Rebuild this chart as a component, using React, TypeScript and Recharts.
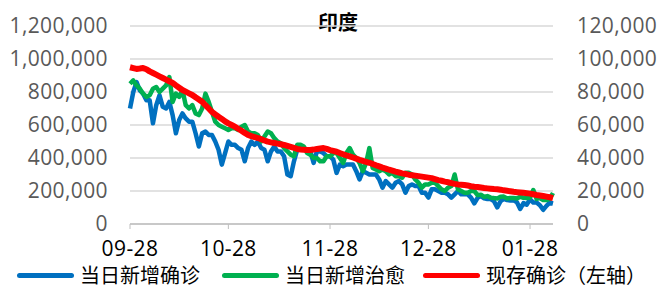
import React from 'react'
import { LineChart, Line, XAxis, YAxis, CartesianGrid } from 'recharts'

// daily data, 2020-09-28 .. 2021-02-04
const START = new Date(2020, 8, 28)
const DAYS = 130
const dates: string[] = Array.from({ length: DAYS }, (_, i) => {
  const d = new Date(START.getFullYear(), START.getMonth(), START.getDate() + i)
  return String(d.getMonth() + 1).padStart(2, '0') + '-' + String(d.getDate()).padStart(2, '0')
})

const xTicks = ['09-28', '10-28', '11-28', '12-28', '01-28']
const leftTicks = [0, 200000, 400000, 600000, 800000, 1000000, 1200000]
const rightTicks = [0, 20000, 40000, 60000, 80000, 100000, 120000]

// thousands
const newConfirmed = [
  70, 80, 86, 81, 79, 75, 75, 61, 72, 78, 71, 70, 74, 66, 55, 63, 67, 64, 62, 62,
  55, 47, 55, 56, 54, 54, 50, 45, 36, 43, 50, 48, 48, 46, 45, 38, 46, 50, 48, 50,
  46, 45, 38, 44, 47, 44, 44, 41, 30, 29, 38, 45, 46, 46, 45, 44, 37, 44, 44, 43,
  41, 41, 39, 31, 36, 35, 36, 36, 36, 32, 27, 32, 31, 30, 30, 30, 27, 22, 26, 24,
  22, 25, 26, 24, 19, 23, 24, 23, 23, 19, 19, 16, 21, 21, 20, 19, 19, 18, 16, 18,
  20, 18, 18, 18, 16, 12.5, 15.9, 16.9, 15.6, 15.2, 15.1, 13.8, 10.1, 13.8, 15.2, 14.5, 14.3, 14.3, 13.2, 9.1,
  12.7, 11.7, 15, 13, 13, 11.4, 8.6, 11, 12.9, 12.4,
]

const newRecovered = [
  85, 87, 84, 82, 79, 77, 78, 82, 83, 80, 82, 84, 89, 74, 79, 77, 81, 72, 70, 72,
  67, 66, 70, 79, 74, 68, 62, 60, 59, 58, 57, 58, 58, 57, 59, 60, 56, 55, 55, 54,
  50, 53, 56, 55, 52, 50, 49, 46, 44, 42, 41, 48, 48, 47, 43, 42, 40, 40, 38, 38,
  41, 41, 43, 43, 40, 37, 43, 46, 42, 40, 37, 32, 37, 46, 34, 33, 32, 33, 32, 30,
  31, 29, 29, 28, 31, 31, 30, 27, 25, 22, 24, 24, 25, 25, 23, 21, 20, 22, 23, 30,
  21, 20, 19, 19, 20, 20, 17.5, 17.8, 16.5, 16.9, 16, 15.7, 15.5, 16.5, 16.6, 15.5, 15.8, 15.7, 15.5, 16.5,
  15.9, 15.7, 16, 20.6, 15.2, 15.7, 14.5, 14.5, 15.2, 18.8,
]

const activeCases = [
  950, 945, 940, 942, 945, 938, 925, 915, 905, 895, 885, 875, 865, 855, 840, 826, 812, 802, 792, 782,
  768, 755, 741, 720, 700, 680, 665, 650, 637, 622, 610, 600, 590, 577, 565, 552, 540, 533, 527, 521,
  514, 506, 499, 495, 491, 487, 483, 479, 473, 467, 461, 455, 452, 450, 448, 448, 451, 455, 458, 460,
  455, 448, 443, 438, 430, 423, 416, 410, 403, 396, 389, 383, 377, 371, 364, 356, 349, 342, 336, 329,
  323, 317, 312, 307, 303, 299, 296, 293, 290, 287, 284, 281, 278, 272, 266, 262, 257, 253, 248, 243,
  240, 238, 236, 233, 229, 226, 224, 221, 218, 216, 214, 212, 211, 208, 204, 201, 198, 195, 193, 191,
  189, 187, 184, 180, 176, 173, 170, 166, 162, 157,
]

const data = dates.map((date, i) => ({
  date,
  confirmed: newConfirmed[i] * 1000,
  recovered: newRecovered[i] * 1000,
  active: activeCases[i] * 1000,
}))

const BLUE = '#0070c0'
const GREEN = '#00b050'
const RED = '#ff0000'
const FONT = '"Open Sans", "Noto Sans CJK SC", sans-serif'
const CJK = '"Noto Sans CJK SC", sans-serif'

const fmt = (v: number) => v.toLocaleString('en-US')

const legendItems = [
  { label: '当日新增确诊', color: BLUE, x: 17 },
  { label: '当日新增治愈', color: GREEN, x: 222 },
  { label: '现存确诊（左轴）', color: RED, x: 423 },
]

const axisTick = { fill: '#595959', fontSize: 21, fontFamily: FONT, letterSpacing: 0.4 }

export default function App() {
  return (
    <div style={{ position: 'relative', width: 659, height: 295, background: '#fff' }}>
      <style>{`body{margin:0}`}</style>
      <div style={{
        position: 'absolute', left: 0, width: 676, top: 8, textAlign: 'center',
        fontFamily: CJK, fontWeight: 700, fontSize: 20, color: '#000', lineHeight: '28px',
      }}>印度</div>
      <LineChart width={659} height={295} data={data} margin={{ top: 26, right: 0, bottom: 0, left: 0 }}>
        <CartesianGrid yAxisId="left" vertical={false} stroke="#d9d9d9" strokeWidth={1.5} />
        <XAxis
          dataKey="date"
          ticks={xTicks}
          interval={0}
          height={71}
          tickSize={5}
          tickMargin={12}
          axisLine={{ stroke: '#bfbfbf', strokeWidth: 1.5 }}
          tickLine={{ stroke: '#bfbfbf' }}
          tick={{ ...axisTick, fill: '#000' }}
        />
        <YAxis
          yAxisId="left"
          domain={[0, 1200000]}
          ticks={leftTicks}
          tickFormatter={fmt}
          width={130}
          axisLine={false}
          tickLine={false}
          tickSize={0}
          tickMargin={22}
          tick={axisTick}
        />
        <YAxis
          yAxisId="right"
          orientation="right"
          domain={[0, 120000]}
          ticks={rightTicks}
          tickFormatter={fmt}
          width={106}
          axisLine={false}
          tickLine={false}
          tickSize={0}
          tickMargin={24}
          tick={axisTick}
        />
        <Line yAxisId="right" dataKey="confirmed" stroke={BLUE} strokeWidth={4.5} dot={false}
          strokeLinejoin="round" isAnimationActive={false} />
        <Line yAxisId="right" dataKey="recovered" stroke={GREEN} strokeWidth={4.5} dot={false}
          strokeLinejoin="round" isAnimationActive={false} />
        <Line yAxisId="left" dataKey="active" stroke={RED} strokeWidth={6} dot={false}
          strokeLinejoin="round" isAnimationActive={false} />
      </LineChart>
      {legendItems.map(item => (
        <div key={item.label} style={{
          position: 'absolute', left: item.x, top: 262, display: 'flex', alignItems: 'center',
          fontFamily: CJK, fontSize: 20, color: '#000', whiteSpace: 'nowrap', lineHeight: '26px',
        }}>
          <span style={{ display: 'inline-block', width: 57, height: 5, borderRadius: 3, background: item.color, marginRight: 6 }} />
          {item.label}
        </div>
      ))}
    </div>
  )
}
